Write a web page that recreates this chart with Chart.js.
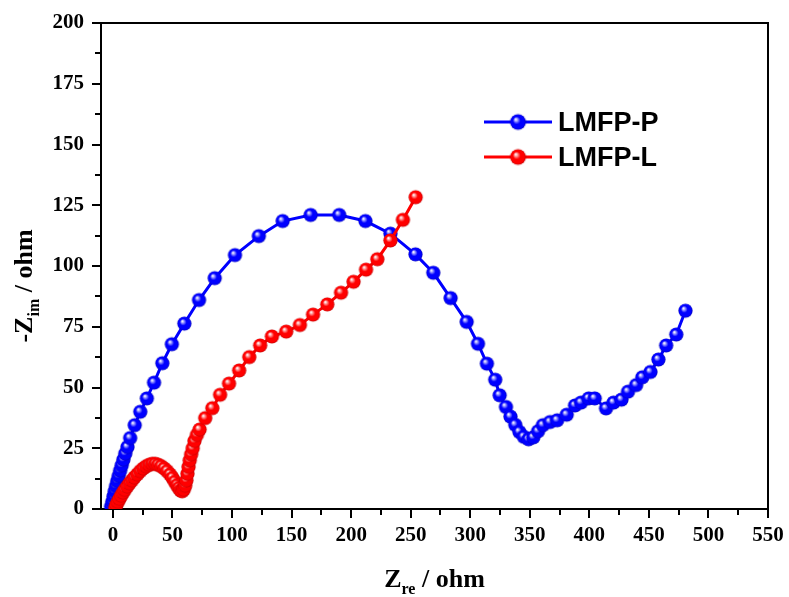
<!DOCTYPE html>
<html>
<head>
<meta charset="utf-8">
<script src="https://cdn.jsdelivr.net/npm/chart.js@4.4.1/dist/chart.umd.min.js"></script>
<style>
html,body{margin:0;padding:0;background:#fff;}
canvas{display:block;}
</style>
</head>
<body>
<canvas id="c" width="789" height="597"></canvas>
<script>
// ---- data ----
const seriesNames = ["LMFP-P", "LMFP-L"];

const blueX = [-1.5,-0.5,0.5,1.5,2.6,3.7,4.9,6.1,7.4,8.8,10.4,12.2,14.5,18.3,23,28.5,34.5,41.5,49.5,60,72.3,85.5,102.5,122.5,142.5,166,190,212,233,254,269,283.5,297,306.5,314,321,324.7,330,333.8,337.8,341.3,345,349,353,357,361,367,373,381,388,393,399.5,404.5,414,420.3,427,432.5,439.3,444.5,451.3,458,464.5,473,480.7];
const blueY = [1,3,5.2,7.3,9.4,11.5,13.6,15.8,18,20.3,22.8,25.5,29.2,34.5,40,45.5,52,60,67.8,76.3,86,95,104.5,112.3,118.5,121,121,118.5,113.3,104.8,97.2,86.8,77,68,59.8,53.2,46.8,42,38,34.6,31.7,29.7,28.7,29.5,32,34.5,35.8,36.5,38.8,42.6,43.8,45.5,45.5,41.4,43.8,45,48.3,51,54.2,56.4,61.5,67.3,71.8,81.6];

const redX = [2,3,4.2,5.5,7,8.5,10,12,14,16,18,20.5,23,25.5,28,30.5,33,35.5,38,40.5,43,45.5,48,50,52,53.8,55.3,56.8,58.2,59.5,60.7,61.7,62.6,63.5,64.5,65.7,67,68.5,70.5,72.8,77.5,83.5,90,97.5,106,114.5,123.6,133.5,145.5,157,168,180,191.5,202,212.5,222,233,243.5,254.2];
const redY = [0.5,1.8,3,4.2,5.5,6.8,7.9,9.3,10.6,11.8,13,14.3,15.6,16.7,17.6,18.2,18.6,18.6,18.2,17.6,16.7,15.6,14.2,12.8,11.2,9.8,8.6,7.6,7.3,8,9.6,11.8,14.5,17.3,20,22.5,25,28,30.5,32.7,37.4,41.5,47,51.6,57,62.5,67.3,71,73,75.7,80,84.2,89,93.5,98.5,102.8,110.5,119,128.3];

const xTicks = [0,50,100,150,200,250,300,350,400,450,500,550];
const xMinor = [25,75,125,175,225,275,325,375,425,475,525];
const yTicks = [0,25,50,75,100,125,150,175,200];
const yMinor = [12.5,37.5,62.5,87.5,112.5,137.5,162.5,187.5];

// ---- sphere markers ----
function ball(main, dark, light) {
  const r = 7.1, s = Math.ceil(2 * r + 2);
  const c = document.createElement('canvas');
  c.width = s; c.height = s;
  const g = c.getContext('2d');
  const cx = s / 2, cy = s / 2;
  const grad = g.createRadialGradient(cx - r * 0.3, cy - r * 0.35, 0.3, cx, cy, r);
  grad.addColorStop(0, '#ffffff');
  grad.addColorStop(0.18, light);
  grad.addColorStop(0.45, main);
  grad.addColorStop(0.85, main);
  grad.addColorStop(1, dark);
  g.fillStyle = grad;
  g.beginPath(); g.arc(cx, cy, r, 0, Math.PI * 2); g.fill();
  return c;
}
const blueBall = ball('#0000ff', '#0000b8', '#9a9aff');
const redBall = ball('#ff0000', '#c00000', '#ff9a9a');

const pts = (xs, ys) => xs.map((x, i) => ({x: x, y: ys[i]}));

const serifTick = {family: '"Liberation Serif", "Times New Roman", serif', size: 21, weight: 'bold'};

const decor = {
  id: 'decor',
  afterDraw(chart) {
    const ctx = chart.ctx, a = chart.chartArea;
    const xs = chart.scales.x, ys = chart.scales.y;
    ctx.save();
    ctx.strokeStyle = '#000';
    ctx.lineWidth = 2;
    // frame top/right
    ctx.beginPath();
    ctx.moveTo(a.left, a.top); ctx.lineTo(a.right, a.top); ctx.lineTo(a.right, a.bottom);
    ctx.stroke();
    // minor ticks
    ctx.beginPath();
    xMinor.forEach(v => { const p = Math.round(xs.getPixelForValue(v)); ctx.moveTo(p, a.bottom); ctx.lineTo(p, a.bottom + 6); });
    yMinor.forEach(v => { const p = Math.round(ys.getPixelForValue(v)); ctx.moveTo(a.left, p); ctx.lineTo(a.left - 6, p); });
    ctx.stroke();

    // axis titles
    const mainF = 'bold 26px "Liberation Serif", "Times New Roman", serif';
    const subF = 'bold 16px "Liberation Serif", "Times New Roman", serif';
    function drawPieces(pieces, cx, baseY) {
      let total = 0;
      pieces.forEach(p => { ctx.font = p[1] ? subF : mainF; p.w = ctx.measureText(p[0]).width; total += p.w; });
      let x = cx - total / 2;
      ctx.fillStyle = '#000';
      ctx.textBaseline = 'alphabetic';
      ctx.textAlign = 'left';
      pieces.forEach(p => { ctx.font = p[1] ? subF : mainF; ctx.fillText(p[0], x, baseY + (p[1] ? 7 : 0)); x += p.w; });
    }
    drawPieces([["Z", false], ["re", true], [" / ohm", false]], (a.left + a.right) / 2, 587);
    ctx.save();
    ctx.translate(32, 286);
    ctx.rotate(-Math.PI / 2);
    drawPieces([["-Z", false], ["im", true], [" / ohm", false]], 0, 0);
    ctx.restore();

    // legend
    const rows = [[chart.data.datasets[0], 122], [chart.data.datasets[1], 157]];
    rows.forEach(r => {
      const ds = r[0], y = r[1];
      ctx.strokeStyle = ds.borderColor; ctx.lineWidth = 3;
      ctx.beginPath(); ctx.moveTo(484, y); ctx.lineTo(552, y); ctx.stroke();
      const img = ds.pointStyle;
      ctx.drawImage(img, 518 - img.width / 2 - 1, y - img.height / 2 - 1, img.width + 2, img.height + 2);
      ctx.fillStyle = '#000';
      ctx.font = 'bold 27px "Liberation Sans", Arial, sans-serif';
      ctx.textBaseline = 'middle';
      ctx.textAlign = 'left';
      ctx.fillText(ds.label, 558, y + 2);
    });
    ctx.restore();
  }
};

new Chart(document.getElementById('c'), {
  type: 'scatter',
  data: {
    datasets: [
      {label: seriesNames[0], data: pts(blueX, blueY), showLine: true, borderColor: '#0000ff', backgroundColor: '#0000ff', borderWidth: 3, pointStyle: blueBall, pointRadius: 7, order: 1},
      {label: seriesNames[1], data: pts(redX, redY), showLine: true, borderColor: '#ff0000', backgroundColor: '#ff0000', borderWidth: 3, pointStyle: redBall, pointRadius: 7, order: 0}
    ]
  },
  options: {
    responsive: false,
    animation: false,
    devicePixelRatio: 1,
    layout: {padding: {top: 23, right: 21, left: 0, bottom: 0}},
    plugins: {legend: {display: false}, tooltip: {enabled: false}},
    scales: {
      x: {
        type: 'linear', min: -10, max: 550,
        afterBuildTicks: s => { s.ticks = xTicks.map(v => ({value: v})); },
        afterFit: s => { s.height = 88; },
        ticks: {font: serifTick, color: '#000', padding: 5, maxRotation: 0, autoSkip: false},
        grid: {display: true, drawOnChartArea: false, drawTicks: true, tickLength: 9, color: '#000', lineWidth: 2},
        border: {display: true, color: '#000', width: 2}
      },
      y: {
        type: 'linear', min: 0, max: 200,
        afterBuildTicks: s => { s.ticks = yTicks.map(v => ({value: v})); },
        afterFit: s => { s.width = 101; },
        ticks: {font: serifTick, color: '#000', padding: 8, autoSkip: false},
        grid: {display: true, drawOnChartArea: false, drawTicks: true, tickLength: 9, color: '#000', lineWidth: 2},
        border: {display: true, color: '#000', width: 2}
      }
    }
  },
  plugins: [decor]
});
</script>
</body>
</html>
